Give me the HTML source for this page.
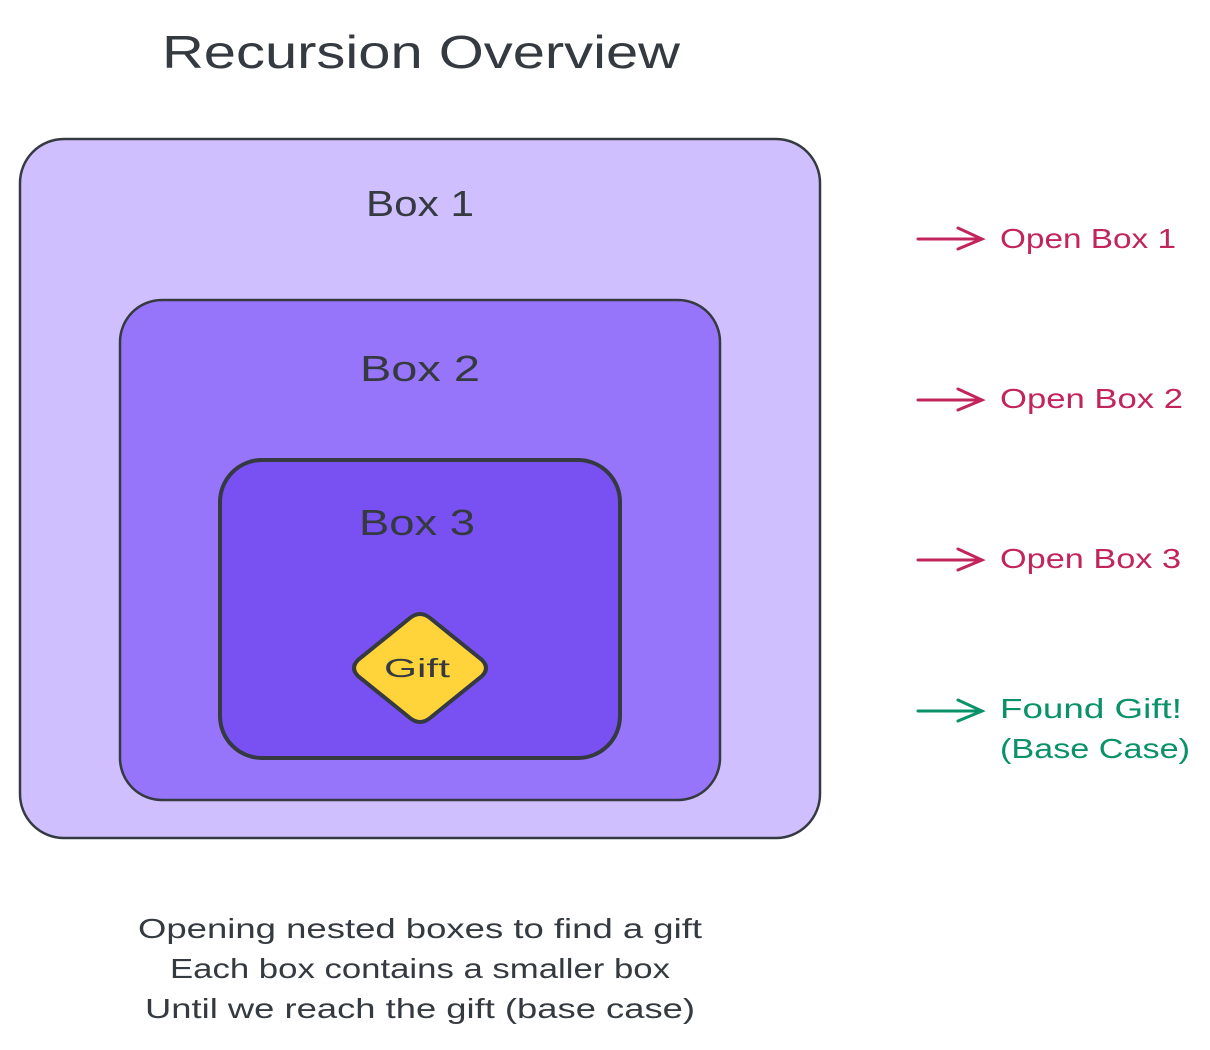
<!DOCTYPE html>
<html><head><meta charset="utf-8"><style>
html,body{margin:0;padding:0;background:#fff;width:1210px;height:1050px;overflow:hidden}
svg{display:block}
text{font-family:"Liberation Sans",sans-serif}
</style></head><body>
<svg width="1210" height="1050" viewBox="0 0 1210 1050" xmlns="http://www.w3.org/2000/svg">
<text x="162" y="68" font-size="46" fill="#343a40" textLength="518" lengthAdjust="spacingAndGlyphs">Recursion Overview</text>
<rect x="20" y="139" width="800" height="699" rx="44" fill="#d0bfff" stroke="#343a40" stroke-width="2.5"/>
<text x="366" y="216" font-size="36" fill="#343a40" textLength="108" lengthAdjust="spacingAndGlyphs">Box 1</text>
<rect x="120" y="300" width="600" height="500" rx="42" fill="#9775fa" stroke="#343a40" stroke-width="2.5"/>
<text x="360" y="381" font-size="36" fill="#343a40" textLength="120" lengthAdjust="spacingAndGlyphs">Box 2</text>
<rect x="220" y="460" width="400" height="298" rx="42" fill="#7950f2" stroke="#343a40" stroke-width="4"/>
<text x="359" y="535" font-size="36" fill="#343a40" textLength="116" lengthAdjust="spacingAndGlyphs">Box 3</text>
<path d="M410 618 Q420 610 430 618 L482 660 Q490 668 482 676 L430 718 Q420 726 410 718 L358 676 Q350 668 358 660 Z" fill="#ffd43b" stroke="#343a40" stroke-width="4"/>
<text x="384" y="677" font-size="26" fill="#343a40" textLength="66" lengthAdjust="spacingAndGlyphs">Gift</text>
<g stroke="#c2255c" stroke-width="3" fill="none" stroke-linecap="round">
<path d="M918 239 L980 239 M958 228 L982 239 L958 249"/>
<path d="M918 400 L980 400 M958 389 L982 400 L958 410"/>
<path d="M918 560 L980 560 M958 549 L982 560 L958 570"/>
</g>
<g stroke="#099268" stroke-width="3" fill="none" stroke-linecap="round">
<path d="M918 711 L980 711 M958 700 L982 711 L958 721"/>
</g>
<g font-size="28" fill="#c2255c">
<text x="1000" y="248" textLength="176" lengthAdjust="spacingAndGlyphs">Open Box 1</text>
<text x="1000" y="408" textLength="183" lengthAdjust="spacingAndGlyphs">Open Box 2</text>
<text x="1000" y="568" textLength="181" lengthAdjust="spacingAndGlyphs">Open Box 3</text>
</g>
<g font-size="28" fill="#099268">
<text x="1000" y="718" textLength="182" lengthAdjust="spacingAndGlyphs">Found Gift!</text>
<text x="1000" y="758" textLength="190" lengthAdjust="spacingAndGlyphs">(Base Case)</text>
</g>
<g font-size="28" fill="#343a40">
<text x="138" y="938" textLength="564" lengthAdjust="spacingAndGlyphs">Opening nested boxes to find a gift</text>
<text x="170" y="978" textLength="500" lengthAdjust="spacingAndGlyphs">Each box contains a smaller box</text>
<text x="145" y="1018" textLength="550" lengthAdjust="spacingAndGlyphs">Until we reach the gift (base case)</text>
</g>
</svg>
</body></html>
